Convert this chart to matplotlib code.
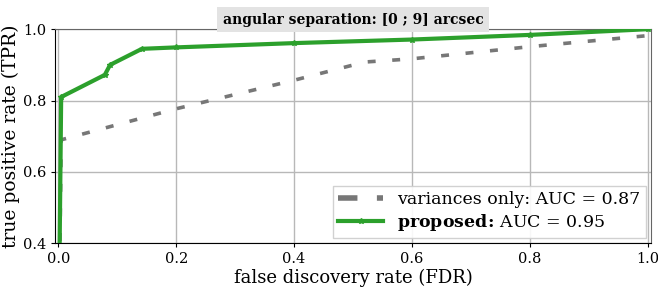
import matplotlib
matplotlib.use("Agg")
import matplotlib.pyplot as plt
from matplotlib.lines import Line2D

# ROC-like curves
fdr_variances = [0.0, 0.003, 0.005, 0.2, 0.4, 0.52, 0.6, 0.8, 1.0]
tpr_variances = [0.0, 0.40, 0.69, 0.777, 0.857, 0.908, 0.917, 0.951, 0.982]

fdr_proposed = [0.0, 0.005, 0.079, 0.088, 0.142, 0.2, 0.4, 0.6, 0.8, 1.0]
tpr_proposed = [0.0, 0.810, 0.872, 0.900, 0.945, 0.949, 0.961, 0.971, 0.984, 1.0]

auc_variances = 0.87
auc_proposed = 0.95

xticks = [0.0, 0.2, 0.4, 0.6, 0.8, 1.0]
yticks = [0.4, 0.6, 0.8, 1.0]

plt.rcParams["font.family"] = ["DejaVu Serif"]
plt.rcParams["mathtext.fontset"] = "dejavuserif"

fig = plt.figure(figsize=(6.58, 2.89), dpi=100)
ax = fig.add_axes([0.084, 0.158, 0.905, 0.741])

gray = "#777777"
green = "#2ca02c"

ax.plot(fdr_variances, tpr_variances, color=gray, lw=2.6,
        linestyle=(0, (2.2, 4.6)), zorder=3)
ax.plot(fdr_proposed, tpr_proposed, color=green, lw=3.0,
        marker="*", markersize=4, zorder=4)

ax.set_xlim(-0.005, 1.005)
ax.set_ylim(0.4, 1.0)
ax.set_xticks(xticks)
ax.set_yticks(yticks)
ax.tick_params(labelsize=10.5, length=3)
ax.grid(True, color="#b8b8b8", lw=1.0)
ax.set_axisbelow(True)

for side in ["top", "right"]:
    ax.spines[side].set_color("#666666")
for side in ["left", "bottom"]:
    ax.spines[side].set_color("black")

ax.set_xlabel("false discovery rate (FDR)", fontsize=13, labelpad=2)
ax.set_ylabel("true positive rate (TPR)", fontsize=13.5, labelpad=2)

ax.set_title("angular separation: [0 ; 9] arcsec", fontsize=10,
             fontweight="bold", pad=4,
             bbox=dict(facecolor="#e3e3e3", edgecolor="none", pad=4))

handles = [
    Line2D([], [], color=gray, lw=4, linestyle=(0, (3.5, 3.5))),
    Line2D([], [], color=green, lw=3.0, marker="*", markersize=4),
]
labels = [
    f"variances only: AUC = {auc_variances:.2f}",
    r"$\mathbf{proposed}\!\mathbf{:}\!$" + f" AUC = {auc_proposed:.2f}",
]
ax.legend(handles, labels, loc="lower right", fontsize=12.5,
          handlelength=2.6, borderpad=0.3, labelspacing=0.2,
          borderaxespad=0.3, framealpha=0.9, edgecolor="#cccccc",
          fancybox=False)

fig.savefig("out.png", dpi=100)
